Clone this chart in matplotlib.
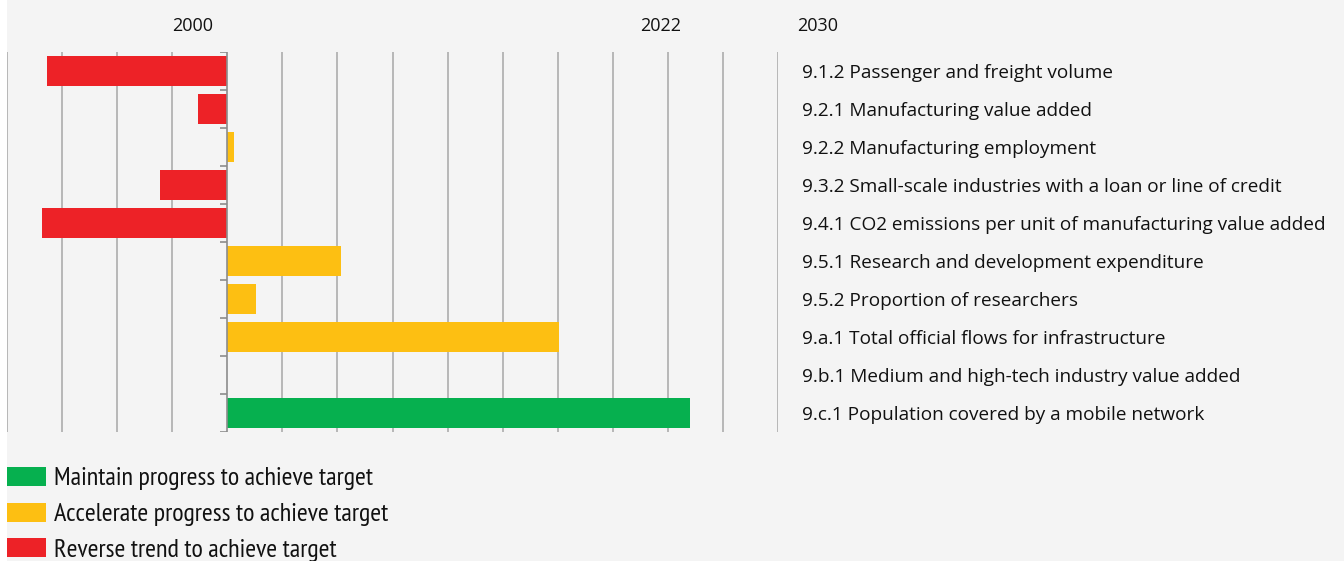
import matplotlib
matplotlib.use("Agg")
import matplotlib.pyplot as plt
from matplotlib.patches import Rectangle

# ---- data ----
indicators = [
    "9.1.2 Passenger and freight volume",
    "9.2.1 Manufacturing value added",
    "9.2.2 Manufacturing employment",
    "9.3.2 Small-scale industries with a loan or line of credit",
    "9.4.1 CO2 emissions per unit of manufacturing value added",
    "9.5.1 Research and development expenditure",
    "9.5.2 Proportion of researchers",
    "9.a.1 Total official flows for infrastructure",
    "9.b.1 Medium and high-tech industry value added",
    "9.c.1 Population covered by a mobile network",
]
values = [-3.28, -0.53, 0.13, -1.22, -3.36, 2.07, 0.53, 6.02, 0.0, 8.41]
status = ["reverse", "reverse", "accelerate", "reverse", "reverse",
          "accelerate", "accelerate", "accelerate", "accelerate", "maintain"]
year_labels = ["2000", "2022", "2030"]
legend_labels = ["Maintain progress to achieve target",
                 "Accelerate progress to achieve target",
                 "Reverse trend to achieve target"]
legend_keys = ["maintain", "accelerate", "reverse"]

colors = {"maintain": "#06b04f", "accelerate": "#fdbf12", "reverse": "#ed2227"}
BG = "#f4f4f4"
W, H = 1344, 561

fig = plt.figure(figsize=(W / 100, H / 100), dpi=100)
fig.patch.set_facecolor(BG)
fig.patches.append(Rectangle((0, 0), 7 / W, 1, transform=fig.transFigure,
                             facecolor="white", edgecolor="none", zorder=0))

ax = fig.add_axes([7 / W, (H - 432) / H, (778 - 7) / W, (432 - 52) / H])
ax.set_facecolor(BG)
n = len(indicators)
ax.set_xlim(-4, 10)
ax.set_ylim(n - 0.5, -0.5)

for gx in range(-4, 11):
    if gx == 0:
        continue
    ax.axvline(gx, color="#a6a6a6", lw=1.1, zorder=1)
ax.axvline(0, color="#8c8c8c", lw=1.2, zorder=3)
for i in range(n + 1):
    ax.plot([-0.13, 0], [i - 0.5, i - 0.5], color="#8c8c8c", lw=1.2, zorder=3,
            solid_capstyle="butt")

ax.barh(range(n), values, height=0.79,
        color=[colors[s] for s in status], zorder=2)

for sp in ax.spines.values():
    sp.set_visible(False)
ax.set_xticks([])
ax.set_yticks([])

font_main = ["Open Sans", "DejaVu Sans"]
for lbl, px in zip(year_labels, [193, 661, 818]):
    fig.text(px / W, 1 - 24 / H, lbl, ha="center", va="center_baseline",
             fontsize=13, family=font_main, color="#111111")

for i, lbl in enumerate(indicators):
    y = 52 + 38 * (i + 0.5)
    fig.text(802 / W, 1 - y / H, lbl, ha="left", va="center_baseline",
             fontsize=13.65, family=font_main, color="#111111")

font_leg = ["PT Sans Narrow", "Roboto Condensed", "DejaVu Sans"]
for j, (lbl, key) in enumerate(zip(legend_labels, legend_keys)):
    ytop = 467 + 35.5 * j
    fig.patches.append(Rectangle((7 / W, 1 - (ytop + 19) / H), 39 / W, 19 / H,
                                 transform=fig.transFigure,
                                 facecolor=colors[key], edgecolor="none"))
    fig.text(54 / W, 1 - (ytop + 9.5) / H, lbl, ha="left", va="center_baseline",
             fontsize=18.8, family=font_leg, color="#111111")

fig.savefig("out.png", dpi=100, facecolor=BG)
